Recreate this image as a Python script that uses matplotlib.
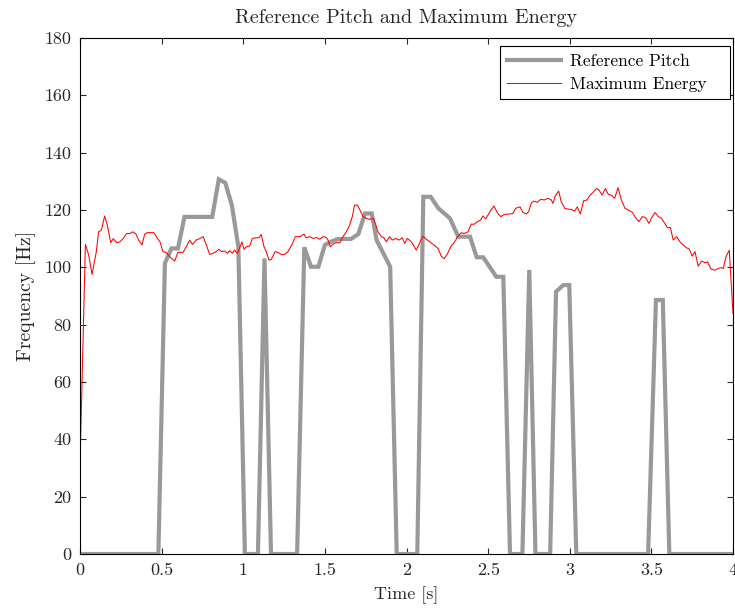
import matplotlib
matplotlib.use("Agg")
import matplotlib.pyplot as plt
from matplotlib.ticker import FixedLocator, FixedFormatter

plt.rcParams['font.family'] = 'serif'
plt.rcParams['font.serif'] = ['cmr10']
plt.rcParams['mathtext.fontset'] = 'cm'
plt.rcParams['axes.unicode_minus'] = False
plt.rcParams['axes.formatter.use_mathtext'] = True

title = "Reference Pitch and Maximum Energy"
xlabel = "Time [s]"
ylabel = "Frequency [Hz]"
series_names = ["Reference Pitch", "Maximum Energy"]

pitch_t = [0, 0.48, 0.52, 0.56, 0.60, 0.64, 0.81, 0.85, 0.89, 0.93, 0.97,
           1.01, 1.09, 1.13, 1.17, 1.33, 1.374, 1.415, 1.46, 1.50, 1.54,
           1.58, 1.66, 1.705, 1.746, 1.787, 1.817, 1.90, 1.94, 2.066, 2.103,
           2.148, 2.195, 2.266, 2.317, 2.389, 2.43, 2.47, 2.55, 2.593, 2.634,
           2.71, 2.752, 2.79, 2.88, 2.916, 2.96, 2.997, 3.04, 3.48, 3.528,
           3.57, 3.61, 4.0]
pitch_hz = [0, 0, 101.4, 106.6, 106.6, 117.6, 117.6, 130.7, 129.5, 121.7, 107.2,
            0, 0, 103.1, 0, 0, 107.0, 100.2, 100.2, 107.8, 109.0,
            109.9, 109.9, 111.6, 118.8, 118.8, 109.5, 100.2, 0, 0, 124.6,
            124.6, 120.6, 117.1, 110.7, 110.7, 103.5, 103.5, 96.7, 96.7, 0,
            0, 99.1, 0, 0, 91.5, 93.8, 93.8, 0, 0, 88.6,
            88.6, 0, 0]

energy_t = [
    0.0, 0.033, 0.053, 0.074, 0.100, 0.114, 0.131, 0.151, 0.167, 0.188,
    0.204, 0.225, 0.245, 0.265, 0.286, 0.306, 0.323, 0.343, 0.359, 0.380,
    0.396, 0.412, 0.453, 0.474, 0.490, 0.508, 0.529, 0.555, 0.580, 0.600,
    0.631, 0.651, 0.672, 0.690, 0.711, 0.733, 0.754, 0.774, 0.794, 0.815,
    0.835, 0.850, 0.866, 0.886, 0.903, 0.917, 0.933, 0.947, 0.964, 0.978,
    0.992, 1.005, 1.019, 1.039, 1.056, 1.076, 1.097, 1.110, 1.127, 1.141,
    1.158, 1.172, 1.196, 1.213, 1.233, 1.254, 1.274, 1.299, 1.319, 1.348,
    1.372, 1.386, 1.407, 1.427, 1.448, 1.468, 1.489, 1.509, 1.519, 1.533,
    1.550, 1.570, 1.591, 1.611, 1.631, 1.652, 1.668, 1.682, 1.699, 1.713,
    1.734, 1.754, 1.774, 1.795, 1.811, 1.825, 1.846, 1.862, 1.876, 1.897,
    1.913, 1.933, 1.954, 1.974, 1.989, 2.005, 2.030, 2.060, 2.081, 2.101,
    2.121, 2.142, 2.168, 2.193, 2.213, 2.230, 2.250, 2.271, 2.295, 2.316,
    2.336, 2.352, 2.377, 2.397, 2.413, 2.434, 2.454, 2.469, 2.485, 2.505,
    2.520, 2.536, 2.556, 2.577, 2.601, 2.632, 2.652, 2.669, 2.695, 2.714,
    2.734, 2.748, 2.765, 2.781, 2.801, 2.822, 2.846, 2.867, 2.887, 2.897,
    2.912, 2.932, 2.948, 2.969, 2.989, 3.010, 3.030, 3.046, 3.065, 3.085,
    3.106, 3.122, 3.142, 3.163, 3.179, 3.198, 3.218, 3.234, 3.259, 3.275,
    3.296, 3.316, 3.338, 3.358, 3.383, 3.403, 3.424, 3.444, 3.465, 3.485,
    3.501, 3.522, 3.542, 3.559, 3.579, 3.599, 3.616, 3.634, 3.654, 3.675,
    3.695, 3.716, 3.732, 3.750, 3.767, 3.787, 3.808, 3.828, 3.844, 3.865,
    3.889, 3.910, 3.926, 3.940, 3.957, 3.977, 4.000]
energy_hz = [
    31.0, 108.0, 104.3, 97.5, 105.5, 112.4, 113.0, 117.9, 114.8, 108.6,
    110.0, 108.6, 108.9, 110.1, 111.8, 111.8, 112.4, 111.6, 109.5, 107.8,
    111.6, 112.1, 112.1, 110.1, 108.9, 105.5, 105.1, 103.4, 102.2, 105.3,
    105.2, 107.2, 109.5, 108.0, 109.5, 110.0, 110.7, 107.8, 104.5, 104.9,
    105.5, 106.3, 105.5, 105.7, 104.9, 105.8, 104.9, 106.0, 104.9, 106.8,
    108.9, 106.3, 107.2, 107.4, 110.1, 110.3, 110.3, 111.5, 107.2, 105.5,
    102.5, 102.8, 105.5, 105.2, 104.5, 104.5, 105.5, 108.0, 110.7, 110.7,
    111.6, 110.3, 110.7, 110.1, 110.4, 109.8, 110.7, 110.4, 109.5, 107.2,
    108.1, 108.6, 108.6, 110.7, 112.4, 114.7, 117.7, 121.7, 121.7, 120.2,
    117.7, 117.1, 116.7, 117.1, 115.0, 112.4, 110.7, 110.3, 108.9, 110.7,
    109.5, 110.1, 109.5, 110.3, 108.3, 110.1, 108.9, 106.0, 108.6, 110.9,
    109.8, 108.9, 107.8, 106.6, 103.9, 103.0, 104.6, 107.2, 108.9, 110.9,
    112.1, 111.8, 112.4, 115.1, 115.0, 115.9, 116.5, 117.9, 116.9, 118.8,
    120.2, 121.4, 119.1, 117.7, 118.5, 118.6, 118.8, 120.6, 121.1, 119.1,
    118.6, 119.4, 122.5, 123.1, 122.7, 123.7, 123.5, 124.1, 123.5, 122.3,
    125.0, 126.6, 122.9, 120.6, 120.3, 120.2, 119.6, 121.1, 118.6, 123.2,
    123.5, 125.0, 126.1, 127.5, 127.0, 125.2, 127.5, 125.6, 125.0, 124.1,
    127.8, 123.5, 120.6, 120.0, 119.2, 117.3, 115.9, 117.7, 117.3, 115.3,
    117.3, 119.1, 117.7, 117.3, 115.6, 113.8, 113.9, 109.5, 110.7, 108.9,
    107.8, 106.8, 106.4, 103.9, 105.5, 100.4, 102.2, 101.6, 101.9, 99.4,
    99.0, 99.6, 99.9, 99.6, 103.7, 106.0, 84.0]

xtick_vals = [0, 0.5, 1, 1.5, 2, 2.5, 3, 3.5, 4]
xtick_labels = ["0", "0.5", "1", "1.5", "2", "2.5", "3", "3.5", "4"]
ytick_vals = [0, 20, 40, 60, 80, 100, 120, 140, 160, 180]
ytick_labels = ["0", "20", "40", "60", "80", "100", "120", "140", "160", "180"]

fig = plt.figure(figsize=(7.35, 6.08), dpi=100)
ax = fig.add_axes([80/735, 54/608, 653/735, 516/608])

ax.plot(pitch_t, pitch_hz, color='#999999', lw=3.0, label=series_names[0],
        solid_joinstyle='miter')
ax.plot(energy_t, energy_hz, color='#ff0000', lw=0.75, label=series_names[1])

ax.set_xlim(0, 4)
ax.set_ylim(0, 180)
ax.xaxis.set_major_locator(FixedLocator(xtick_vals))
ax.xaxis.set_major_formatter(FixedFormatter(xtick_labels))
ax.yaxis.set_major_locator(FixedLocator(ytick_vals))
ax.yaxis.set_major_formatter(FixedFormatter(ytick_labels))
ax.tick_params(direction='in', top=True, right=True, length=4, width=0.8,
               labelsize=13, colors='#262626')
ax.tick_params(axis='x', pad=6)
ax.tick_params(axis='y', pad=6)
for s in ax.spines.values():
    s.set_linewidth(0.8)
    s.set_color('black')

ax.set_title(title, fontsize=14.5, pad=11, color='#262626')
ax.set_xlabel(xlabel, fontsize=13, labelpad=6, color='#262626')
ax.set_ylabel(ylabel, fontsize=14.2, labelpad=6, color='#262626')

leg = ax.legend(loc='upper right',
                bbox_to_anchor=(0.6432, 0.8837, 0.3522, 0.1008),
                mode='expand', borderaxespad=0, fancybox=False,
                edgecolor='black', framealpha=1, fontsize=12.5,
                handlelength=3.1, handletextpad=0.5,
                borderpad=0.42, labelspacing=0.45)
leg.get_frame().set_linewidth(0.8)
# nudge legend content slightly right, as in the reference
leg._legend_box.set_offset  # keep API untouched
for h in leg.legend_handles:
    pass

fig.savefig("out.png", dpi=100)
